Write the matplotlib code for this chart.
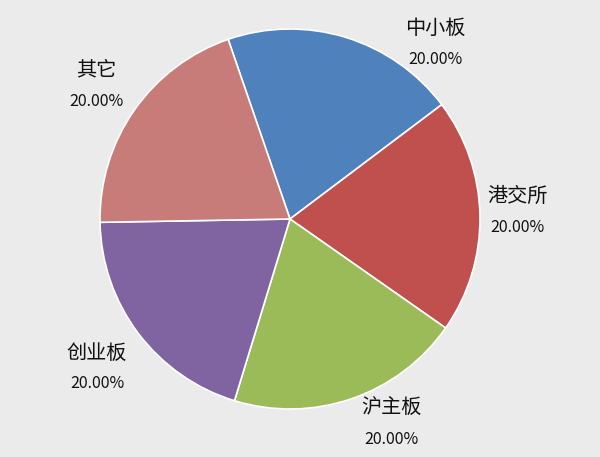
import matplotlib
matplotlib.use("Agg")
import matplotlib.pyplot as plt

plt.rcParams['font.family'] = ['Noto Sans CJK SC', 'DejaVu Sans']

categories = ["中小板", "港交所", "沪主板", "创业板", "其它"]
values = [20, 20, 20, 20, 20]
colors = ["#4F81BD", "#C0504D", "#9BBB59", "#8064A2", "#C77C7A"]
# label anchor (x, y) in pixel space, y measured from top
label_pos = [(435, 28), (517, 196), (391, 408), (97, 353), (96, 70)]

W, H = 600, 457
fig = plt.figure(figsize=(W / 100, H / 100), dpi=100, facecolor="#EBEBEB")
ax = fig.add_axes([0, 0, 1, 1])
ax.set_facecolor("#EBEBEB")

cx, cy, r = 290, H - 219, 190
wedges, _ = ax.pie(values, colors=colors, startangle=109, counterclock=False,
                   radius=r, center=(cx, cy), frame=True,
                   wedgeprops=dict(edgecolor="white", linewidth=1.2))
ax.set_xlim(0, W)
ax.set_ylim(0, H)
ax.set_aspect("equal")
ax.axis("off")

total = sum(values)
for name, v, (lx, ly) in zip(categories, values, label_pos):
    ax.text(lx, H - ly, name, ha="center", va="center", fontsize=14.5, color="#111111")
    ax.text(lx, H - ly - 31, f"{v / total * 100:.2f}%", ha="center", va="center",
            fontsize=11.5, color="#111111")

fig.savefig("out.png", dpi=100, facecolor=fig.get_facecolor())
